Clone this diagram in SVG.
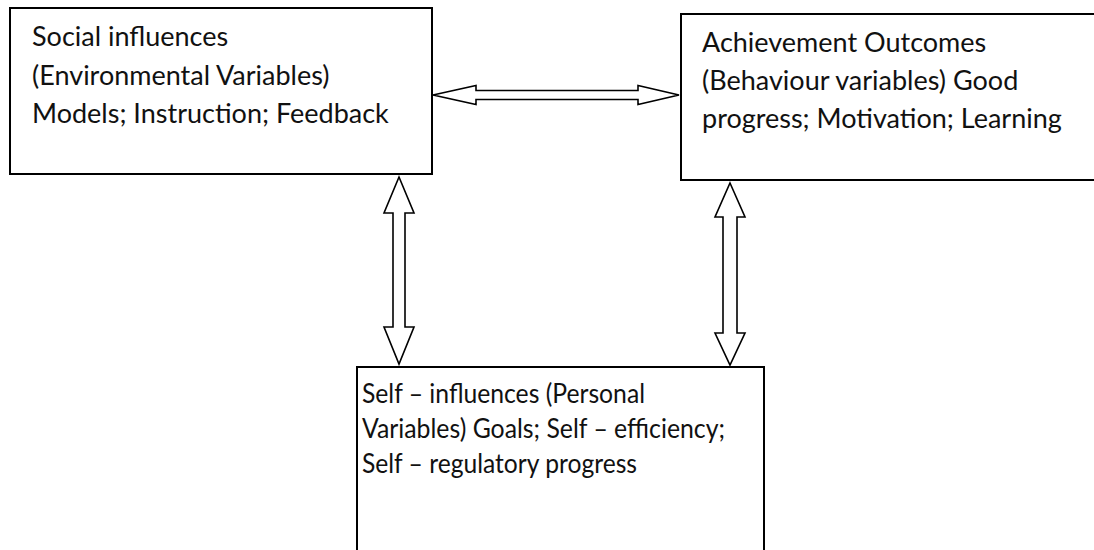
<svg xmlns="http://www.w3.org/2000/svg" width="1094" height="550" viewBox="0 0 1094 550">
<style>
.box{fill:#fff;stroke:#000;stroke-width:2}
.arr{fill:#fff;stroke:#000;stroke-width:1.6;stroke-linejoin:miter}
text{font-family:Lato,"Open Sans",sans-serif;font-size:27px;fill:#111}
.fit{font-size:26px}
</style>
<rect width="1094" height="550" fill="#fff"/>
<g id="social">
<rect class="box" x="10" y="8" width="422" height="166"/>
<text x="32" y="46">Social influences</text>
<text x="32" y="84.5">(Environmental Variables)</text>
<text x="32" y="123">Models; Instruction; Feedback</text>
</g>
<g id="achievement">
<rect class="box" x="681" y="14" width="420" height="166"/>
<text x="702" y="52">Achievement Outcomes</text>
<text x="702" y="90">(Behaviour variables) Good</text>
<text x="702" y="128">progress; Motivation; Learning</text>
</g>
<g id="self">
<rect class="box" x="357" y="367" width="407" height="200"/>
<text class="fit" x="362" y="403" textLength="283" lengthAdjust="spacingAndGlyphs">Self – influences (Personal</text>
<text class="fit" x="362" y="438" textLength="363" lengthAdjust="spacingAndGlyphs">Variables) Goals; Self – efficiency;</text>
<text class="fit" x="362" y="473" textLength="275" lengthAdjust="spacingAndGlyphs">Self – regulatory progress</text>
</g>
<g id="connectors">
<polygon class="arr" points="433,95 476,85.5 476,90.5 638,90.5 638,85.5 679,95 638,104.5 638,99.5 476,99.5 476,104.5"/>
<polygon class="arr" points="399,177 414,213 405,213 405,327 414,327 399,364 384,327 393,327 393,213 384,213"/>
<polygon class="arr" points="730,183 745,217 737,217 737,333 745,333 730,365 715,333 723,333 723,217 715,217"/>
</g>
</svg>
